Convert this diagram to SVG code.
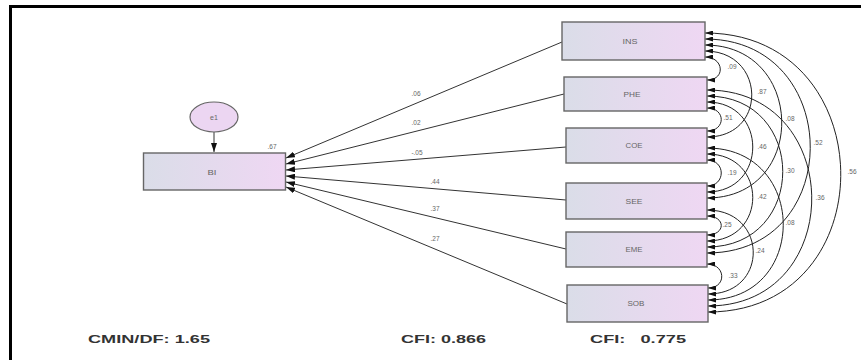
<svg xmlns="http://www.w3.org/2000/svg" width="861" height="360" viewBox="0 0 861 360">
<style>
.box{stroke:#666;stroke-width:1.4;fill:url(#g)}
.lbl{font-family:"Liberation Sans",Arial,sans-serif;font-size:7px;fill:#666;text-anchor:middle}
.num{font-family:"Liberation Sans",Arial,sans-serif;font-size:6.5px;fill:#666;text-anchor:middle}
.fit{font-family:"Liberation Sans",Arial,sans-serif;font-size:11px;font-weight:bold;fill:#333}
.p{stroke:#333;stroke-width:1;fill:none;marker-end:url(#ah)}
.c{stroke:#222;stroke-width:1;fill:none;marker-start:url(#ch);marker-end:url(#ch)}
</style>
<defs>
<linearGradient id="g" x1="0" y1="0" x2="1" y2="0">
<stop offset="0" stop-color="#dadde8"/>
<stop offset="1" stop-color="#efd7f3"/>
</linearGradient>
<marker id="ah" markerUnits="userSpaceOnUse" markerWidth="9" markerHeight="6" refX="9" refY="3" orient="auto">
<path d="M0,0 L9,3 L0,6 z" fill="#111"/>
</marker>
<marker id="ch" markerUnits="userSpaceOnUse" markerWidth="8" markerHeight="5" refX="8" refY="2.5" orient="auto-start-reverse">
<path d="M0,0 L8,2.5 L0,5 z" fill="#111"/>
</marker>
</defs>
<rect width="861" height="360" fill="#fff"/>
<path d="M10.5,360 V6.5 H861" stroke="#000" stroke-width="3" fill="none"/>

<g id="connectors">
<path class="p" d="M214,132 V152"/>
<path class="p" d="M562,42 L286,158"/>
<path class="p" d="M564,94 L286,164"/>
<path class="p" d="M566,147 L286,170"/>
<path class="p" d="M566,200 L286,176"/>
<path class="p" d="M566,249 L286,182"/>
<path class="p" d="M567,304 L286,187"/>
<!-- adjacent -->
<path class="c" d="M705,57 C724,57 726,80 707,80"/>
<path class="c" d="M707,108 C726,108 726,131 707,131"/>
<path class="c" d="M707,160 C726,160 726,186 707,186"/>
<path class="c" d="M707,216 C726,216 726,235 707,235"/>
<path class="c" d="M707,264 C726,264 727,288 708,288"/>
<!-- skip 1 -->
<path class="c" d="M705,51 C766,51 768,137 707,137"/>
<path class="c" d="M707,102 C768,102 768,192 707,192"/>
<path class="c" d="M707,154 C768,154 768,241 707,241"/>
<path class="c" d="M707,210 C768,210 769,294 708,294"/>
<!-- skip 2 -->
<path class="c" d="M705,45 C806,45 808,198 707,198"/>
<path class="c" d="M707,96 C808,96 808,247 707,247"/>
<path class="c" d="M707,148 C808,148 809,300 708,300"/>
<!-- skip 3 -->
<path class="c" d="M705,39 C844,39 846,253 707,253"/>
<path class="c" d="M707,90 C846,90 847,306 708,306"/>
<!-- skip 4 -->
<path class="c" d="M705,33 C884,33 887,312 708,312"/>
<text class="num" x="416" y="96">.06</text>
<text class="num" x="416" y="125">.02</text>
<text class="num" x="417" y="155">-.05</text>
<text class="num" x="435" y="184">.44</text>
<text class="num" x="435" y="211">.37</text>
<text class="num" x="435" y="241">.27</text>
<text class="num" x="272" y="149">.67</text>
<text class="num" x="732" y="69">.09</text>
<text class="num" x="728" y="120">.51</text>
<text class="num" x="732" y="175">.19</text>
<text class="num" x="727" y="227">.25</text>
<text class="num" x="733" y="278">.33</text>
<text class="num" x="762" y="94">.87</text>
<text class="num" x="762" y="149">.46</text>
<text class="num" x="762" y="199">.42</text>
<text class="num" x="760" y="253">.24</text>
<text class="num" x="790" y="121">.08</text>
<text class="num" x="790" y="173">.30</text>
<text class="num" x="790" y="225">.08</text>
<text class="num" x="818" y="145">.52</text>
<text class="num" x="820" y="200">.36</text>
<text class="num" x="852" y="174">.56</text>
</g>

<g id="e1">
<ellipse cx="214" cy="117" rx="24" ry="15" fill="#ecd6f2" stroke="#666" stroke-width="1.2"/>
<text class="lbl" x="214" y="119.5">e1</text>
</g>
<g id="BI">
<rect class="box" x="143.5" y="153" width="142" height="37"/>
<text class="lbl" x="212" y="174.5" textLength="9" lengthAdjust="spacingAndGlyphs">BI</text>
</g>
<g id="INS">
<rect class="box" x="562" y="22" width="143" height="38"/>
<text class="lbl" x="630" y="43.5" textLength="15" lengthAdjust="spacingAndGlyphs">INS</text>
</g>
<g id="PHE">
<rect class="box" x="564" y="77" width="143" height="34"/>
<text class="lbl" x="632" y="96.5" textLength="17" lengthAdjust="spacingAndGlyphs">PHE</text>
</g>
<g id="COE">
<rect class="box" x="566" y="128" width="141" height="35"/>
<text class="lbl" x="634" y="148" textLength="17" lengthAdjust="spacingAndGlyphs">COE</text>
</g>
<g id="SEE">
<rect class="box" x="566" y="183" width="141" height="36"/>
<text class="lbl" x="634" y="203.5" textLength="17" lengthAdjust="spacingAndGlyphs">SEE</text>
</g>
<g id="EME">
<rect class="box" x="566" y="232" width="141" height="35"/>
<text class="lbl" x="634" y="252" textLength="17" lengthAdjust="spacingAndGlyphs">EME</text>
</g>
<g id="SOB">
<rect class="box" x="567" y="285" width="141" height="37"/>
<text class="lbl" x="636" y="306" textLength="17" lengthAdjust="spacingAndGlyphs">SOB</text>
</g>

<g id="fit">
<text class="fit" x="88" y="343" textLength="122" lengthAdjust="spacingAndGlyphs">CMIN/DF: 1.65</text>
<text class="fit" x="401" y="343" textLength="85" lengthAdjust="spacingAndGlyphs">CFI: 0.866</text>
<text class="fit" x="590" y="343" textLength="96" lengthAdjust="spacingAndGlyphs" xml:space="preserve">CFI:   0.775</text>
</g>
</svg>
